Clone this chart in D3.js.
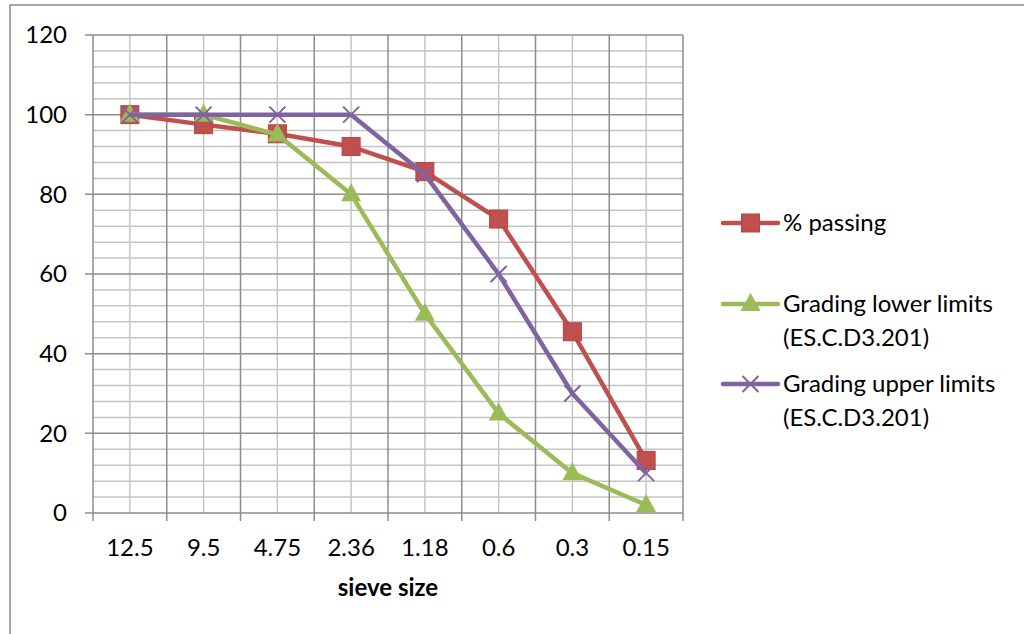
<!DOCTYPE html>
<html>
<head>
<meta charset="utf-8">
<script src="https://cdn.jsdelivr.net/npm/d3@7"></script>
<style>
  html, body { margin: 0; padding: 0; background: #fff; }
  svg { display: block; font-family: Lato, "Open Sans", sans-serif; }
</style>
</head>
<body>
<svg id="chart" width="1024" height="634"></svg>
<script>
// Sieve sizes (mm) along the x axis
const sieveSizes = ["12.5", "9.5", "4.75", "2.36", "1.18", "0.6", "0.3", "0.15"];
// Percent passing for the tested aggregate
const percentPassing = [100, 97.5, 95.2, 92, 85.7, 73.8, 45.5, 13.2];
// Specification envelope (ES.C.D3.201)
const lowerLimits = [100, 100, 95, 80, 50, 25, 10, 2];
const upperLimits = [100, 100, 100, 100, 85, 60, 30, 10];
const yTicks = [0, 20, 40, 60, 80, 100, 120];

const seriesList = [
  { name: "% passing", extra: null, values: percentPassing, color: "#C0504D", marker: "square" },
  { name: "Grading lower limits", extra: "(ES.C.D3.201)", values: lowerLimits, color: "#9BBB59", marker: "triangle" },
  { name: "Grading upper limits", extra: "(ES.C.D3.201)", values: upperLimits, color: "#8064A2", marker: "cross" }
];

const svg = d3.select("#chart");
const plot = { left: 93, right: 683, top: 35, bottom: 513 };
const fontSize = 24;

// Chart frame
svg.append("rect")
  .attr("x", 10).attr("y", 5)
  .attr("width", 1030).attr("height", 640)
  .attr("fill", "none").attr("stroke", "#8a8a8a").attr("stroke-width", 1.5);

const x = d3.scaleBand().domain(sieveSizes).range([plot.left, plot.right]).padding(0);
const y = d3.scaleLinear().domain([0, 120]).range([plot.bottom, plot.top]);

const grid = svg.append("g");
// Minor horizontal grid every 4 units
grid.selectAll(".hminor").data(d3.range(0, 121, 4).filter(v => v % 20 !== 0)).join("line")
  .attr("x1", plot.left).attr("x2", plot.right)
  .attr("y1", d => y(d)).attr("y2", d => y(d))
  .attr("stroke", "#c4c4c4").attr("stroke-width", 1.5);
// Minor vertical grid at category centres
grid.selectAll(".vminor").data(sieveSizes).join("line")
  .attr("x1", d => x(d) + x.bandwidth() / 2).attr("x2", d => x(d) + x.bandwidth() / 2)
  .attr("y1", plot.top).attr("y2", plot.bottom)
  .attr("stroke", "#c4c4c4").attr("stroke-width", 1.5);
// Major horizontal grid
grid.selectAll(".hmajor").data(yTicks).join("line")
  .attr("x1", plot.left - 8).attr("x2", plot.right)
  .attr("y1", d => y(d)).attr("y2", d => y(d))
  .attr("stroke", "#8c8c8c").attr("stroke-width", 1.5);
// Major vertical grid at category boundaries
const bounds = sieveSizes.map(d => x(d)).concat([plot.right]);
grid.selectAll(".vmajor").data(bounds).join("line")
  .attr("x1", d => d).attr("x2", d => d)
  .attr("y1", plot.top).attr("y2", plot.bottom + 8)
  .attr("stroke", "#8c8c8c").attr("stroke-width", 1.5);

// Y axis labels
const yAxis = d3.axisLeft(y).tickValues(yTicks).tickSize(0).tickPadding(26);
svg.append("g").attr("transform", `translate(${plot.left},0)`).call(yAxis)
  .call(g => g.select(".domain").remove())
  .call(g => g.selectAll("text").attr("font-size", fontSize).attr("fill", "#000").attr("font-family", "Lato, sans-serif"));

// X axis labels
const xAxis = d3.axisBottom(x).tickSize(0).tickPadding(26);
svg.append("g").attr("transform", `translate(0,${plot.bottom})`).call(xAxis)
  .call(g => g.select(".domain").remove())
  .call(g => g.selectAll("text").attr("font-size", fontSize).attr("fill", "#000").attr("font-family", "Lato, sans-serif"));

svg.append("text")
  .attr("x", (plot.left + plot.right) / 2).attr("y", 596)
  .attr("text-anchor", "middle").attr("font-size", fontSize).attr("font-weight", "bold")
  .text("sieve size");

const cx = d => x(d) + x.bandwidth() / 2;
const line = d3.line().x((d, i) => cx(sieveSizes[i])).y(d => y(d));

function drawMarker(g, type, px, py, color) {
  if (type === "square") {
    g.append("rect").attr("x", px - 9).attr("y", py - 9).attr("width", 18).attr("height", 18)
      .attr("fill", color).attr("stroke", "#b8443f").attr("stroke-width", 1);
  } else if (type === "triangle") {
    g.append("path").attr("d", `M${px},${py - 11}L${px + 10},${py + 7}L${px - 10},${py + 7}Z`)
      .attr("fill", color);
  } else {
    const r = 8;
    g.append("path").attr("d", `M${px - r},${py - r}L${px + r},${py + r}M${px - r},${py + r}L${px + r},${py - r}`)
      .attr("stroke", color).attr("stroke-width", 2).attr("fill", "none");
  }
}

const marks = svg.append("g");
seriesList.forEach(s => {
  marks.append("path").datum(s.values)
    .attr("d", line).attr("fill", "none")
    .attr("stroke", s.color).attr("stroke-width", 4.5).attr("stroke-linejoin", "round");
  const mg = marks.append("g");
  s.values.forEach((v, i) => drawMarker(mg, s.marker, cx(sieveSizes[i]), y(v), s.color));
});

// Legend
const legendY = [223, 304, 384];
const legend = svg.append("g");
seriesList.forEach((s, i) => {
  const ly = legendY[i];
  legend.append("line").attr("x1", 723).attr("x2", 778).attr("y1", ly).attr("y2", ly)
    .attr("stroke", s.color).attr("stroke-width", 4.5).attr("stroke-linecap", "round");
  drawMarker(legend, s.marker, 750.5, ly, s.color);
  const t = legend.append("text").attr("x", 783).attr("y", ly + 8).attr("font-size", fontSize).attr("fill", "#000");
  t.append("tspan").text(s.name);
  if (s.extra) t.append("tspan").attr("x", 783).attr("dy", 34).text(s.extra);
});
</script>
</body>
</html>
